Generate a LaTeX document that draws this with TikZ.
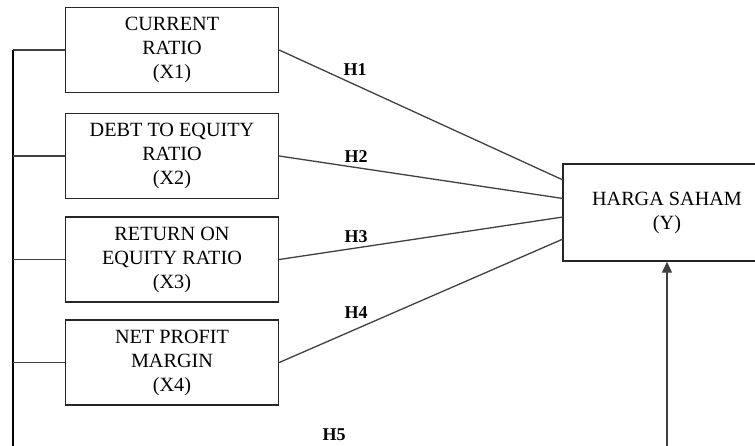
\documentclass[tikz,border=0pt]{standalone}
\usepackage{fontspec}
\setmainfont{Liberation Serif}
\usetikzlibrary{arrows.meta}
\begin{document}
\begin{tikzpicture}[x=1pt,y=-1pt,
  varbox/.style={draw=black!85,line width=1.4pt,minimum width=213pt,minimum height=85pt,
    align=center,font=\fontsize{20.2}{24}\selectfont,inner sep=0pt},
  link/.style={draw=black!75,line width=1.3pt},
  hlab/.style={font=\fontsize{18}{20}\selectfont\bfseries,inner sep=0pt}]
\useasboundingbox (0,0) rectangle (755,445);
\clip (0,0) rectangle (755,445);
\node[varbox] (x1) at (172,50) {CURRENT\\RATIO\\(X1)};
\node[varbox] (x2) at (172,156) {DEBT TO EQUITY\\RATIO\\(X2)};
\node[varbox] (x3) at (172,259.5) {RETURN ON\\EQUITY RATIO\\(X3)};
\node[varbox] (x4) at (172,362.5) {NET PROFIT\\MARGIN\\(X4)};
\node[varbox,minimum width=208pt,minimum height=97pt] (y) at (667,212.5) {HARGA SAHAM\\(Y)};
\coordinate (lt) at (13,50);
\coordinate (lb) at (13,450);
\coordinate (rb) at (667,450);
\draw[draw=black,line width=1.4pt] (lt) -- (lb);
\draw[link] (lt) -- (x1.west);
\draw[link] (13,156) -- (x2.west);
\draw[link] (13,259.5) -- (x3.west);
\draw[link] (13,362.5) -- (x4.west);
\draw[link] (x1.east) -- (563,180);
\draw[link] (x2.east) -- (563,198.5);
\draw[link] (x3.east) -- (563,217);
\draw[link] (x4.east) -- (563,239);
\draw[link,-{Triangle[length=11pt,width=10pt]}] (rb) -- (y.south);
\node[hlab] (h1) at (355,70) {H1};
\node[hlab] (h2) at (356,157) {H2};
\node[hlab] (h3) at (356,237) {H3};
\node[hlab] (h4) at (356,313) {H4};
\node[hlab] (h5) at (334,435) {H5};
\end{tikzpicture}
\end{document}
